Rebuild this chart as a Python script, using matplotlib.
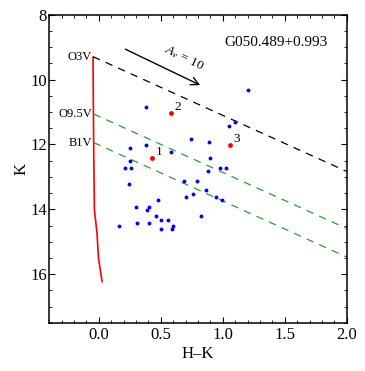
import numpy as np
import matplotlib
matplotlib.use('Agg')
import matplotlib.pyplot as plt
from matplotlib.ticker import MultipleLocator

plt.rcParams['font.family'] = ['Liberation Serif', 'DejaVu Serif']
plt.rcParams['mathtext.fontset'] = 'custom'
plt.rcParams['mathtext.rm'] = 'Liberation Serif'
plt.rcParams['mathtext.it'] = 'Liberation Serif:italic'

# field sources (H-K, K)
hk_blue = [0.383, 1.049, 1.100, 0.743, 0.888, 0.377, 0.251, 0.584, 0.893, 0.251,
           0.211, 0.262, 0.977, 1.022, 0.882, 0.243, 0.689, 0.788, 0.866, 0.761,
           0.703, 0.947, 0.995, 0.479, 0.300, 0.406, 0.388, 0.463, 0.828, 0.504,
           0.557, 0.165, 0.305, 0.407, 0.600, 0.504, 0.592, 1.202]
k_blue = [10.83, 11.43, 11.32, 11.83, 11.93, 12.02, 12.12, 12.22, 12.43, 12.52,
          12.72, 12.72, 12.72, 12.72, 12.83, 13.22, 13.12, 13.12, 13.41, 13.52,
          13.63, 13.62, 13.71, 13.71, 13.92, 13.92, 14.02, 14.22, 14.22, 14.32,
          14.32, 14.52, 14.41, 14.41, 14.51, 14.60, 14.60, 10.32]

# numbered sources
hk_red = [0.428, 0.584, 1.060]
k_red = [12.42, 11.03, 12.01]
red_labels = ['1', '2', '3']

# main sequence
ms_hk = [-0.047, -0.042, -0.036, -0.015, -0.002, 0.006, 0.026]
ms_k = [9.31, 12.01, 14.02, 14.73, 15.56, 15.72, 16.23]

# reddening lines from spectral types
sp_names = ['O3V', 'O9.5V', 'B1V']
sp_hk = [-0.047, -0.042, -0.042]
sp_k = [9.29, 11.06, 11.94]
sp_colors = ['black', '#2ca02c', '#2ca02c']
red_slope = 1.73

# Av = 10 arrow
arrow_start = (0.214, 9.06)
arrow_end = (0.818, 10.17)

fig = plt.figure(figsize=(3.65, 3.71), dpi=100)
ax = fig.add_axes([0.135, 0.130, 0.815, 0.830])

ax.plot(ms_hk, ms_k, color='red', lw=1.2)

for name, x0, y0, c in zip(sp_names, sp_hk, sp_k, sp_colors):
    xs = np.array([x0, 2.0])
    ax.plot(xs, y0 + red_slope * (xs - x0), color=c, lw=0.9, ls=(0, (6, 5)))
    ax.text(x0 - 0.01, y0, name, ha='right', va='center', fontsize=9)

ax.plot(hk_blue, k_blue, 'o', color='blue', ms=2.8, mec='none')
ax.plot(hk_red, k_red, 'o', color='red', ms=3.5, mec='none')
for x, y, lab in zip(hk_red, k_red, red_labels):
    ax.annotate(lab, (x, y), xytext=(2.5, 0), textcoords='offset points',
                fontsize=9.5, ha='left', va='bottom')

ax.annotate('', xy=arrow_end, xytext=arrow_start,
            arrowprops=dict(arrowstyle='->', color='black', lw=1.0,
                            mutation_scale=14, shrinkA=0, shrinkB=0))
ax.text(0.69, 9.33, r'$A_v\,=\,10$', rotation=-26, ha='center', va='center',
        fontsize=9.5)

ax.text(1.43, 8.86, 'G050.489+0.993', ha='center', va='center', fontsize=11)

ax.set_xlim(-0.4, 2.0)
ax.set_ylim(17.5, 8)
ax.xaxis.set_minor_locator(MultipleLocator(0.1))
ax.yaxis.set_minor_locator(MultipleLocator(0.5))
ax.set_xticks([0.0, 0.5, 1.0, 1.5, 2.0])
ax.set_xticklabels(['0.0', '0.5', '1.0', '1.5', '2.0'])
ax.set_yticks([8, 10, 12, 14, 16])
ax.tick_params(which='both', direction='in', top=True, right=True, labelsize=12)
ax.tick_params(which='major', length=4, width=0.8, pad=3)
ax.tick_params(which='minor', length=2, width=0.6)
ax.tick_params(axis='y', which='major', pad=1.5)
for s in ax.spines.values():
    s.set_linewidth(1.1)

ax.set_xlabel('H\u2013K', fontsize=12, labelpad=2)
ax.set_ylabel('K', fontsize=12, labelpad=1)

fig.savefig('out.png', dpi=100)
